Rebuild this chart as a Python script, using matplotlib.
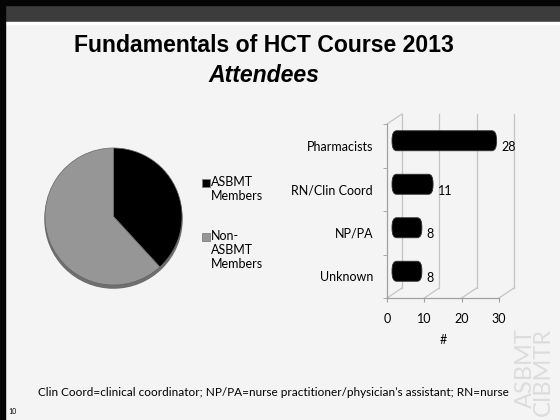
import numpy as np
import matplotlib.pyplot as plt
from matplotlib.patches import Rectangle, FancyBboxPatch, Circle
from matplotlib.transforms import ScaledTranslation

# ----- data -----
title_1 = "Fundamentals of HCT Course 2013"
title_2 = "Attendees"

member_labels = ["ASBMT\nMembers", "Non-\nASBMT\nMembers"]
member_counts = [21, 34]
member_colors = ["#000000", "#969696"]

roles = ["Pharmacists", "RN/Clin Coord", "NP/PA", "Unknown"]
role_counts = [28, 11, 8, 8]
x_ticks = [0, 10, 20, 30]
x_label = "#"

footnote = "Clin Coord=clinical coordinator; NP/PA=nurse practitioner/physician\u2019s assistant; RN=nurse"
slide_no = "10"
watermark = "ASBMT\nCIBMTR"

W, H = 560, 420
body_font = ["Lato", "DejaVu Sans"]
fs = 9


def px(x0, y0, x1, y1):
    # pixel box (top-left origin) -> figure rect
    return [x0 / W, 1 - y1 / H, (x1 - x0) / W, (y1 - y0) / H]


fig = plt.figure(figsize=(5.6, 4.2), dpi=100)
fig.patch.set_facecolor("#f4f4f4")

# ----- slide frame -----
fig.add_artist(Rectangle((0, 1 - 22 / H), 1, 22 / H, transform=fig.transFigure,
                         color="#3c3c3c", zorder=1))
fig.add_artist(Rectangle((0, 1 - 5 / H), 1, 5 / H, transform=fig.transFigure,
                         color="#050505", zorder=2))
fig.add_artist(Rectangle((0, 0), 5 / W, 1, transform=fig.transFigure,
                         color="#050505", zorder=2))
fig.add_artist(Rectangle((0, 1 - 24 / H), 1, 2 / H, transform=fig.transFigure,
                         color="#ffffff", zorder=1))

# ----- titles -----
fig.text(264 / W, 1 - 45 / H, title_1, ha="center", va="center", fontsize=16.6,
         fontweight="bold", family="Liberation Sans")
fig.text(264 / W, 1 - 75 / H, title_2, ha="center", va="center", fontsize=16.6,
         fontweight="bold", style="italic", family="Liberation Sans")

# ----- pie -----
ax1 = fig.add_axes(px(45, 148, 182, 285))
ax1.add_patch(Circle((0, -0.045), 1.0, color="#6e6e6e", zorder=0, clip_on=False))
ax1.pie(member_counts, colors=member_colors, startangle=90, counterclock=False,
        wedgeprops=dict(edgecolor="#666666", linewidth=0.5))
ax1.set_xlim(-1, 1)
ax1.set_ylim(-1, 1)
ax1.set_aspect("equal")
ax1.axis("off")

# legend, drawn by hand so the swatch sits on the first line
legend_y = [183, 237]
for lab, col, y in zip(member_labels, member_colors, legend_y):
    fig.add_artist(Rectangle((202 / W, 1 - (y + 4) / H), 8 / W, 8 / H,
                             transform=fig.transFigure, facecolor=col,
                             edgecolor="#808080", linewidth=0.6))
    fig.text(211 / W, 1 - (y - 7) / H, lab, ha="left", va="top", fontsize=fs,
             linespacing=1.2, family=body_font)

# ----- 3D-ish horizontal bars -----
ax2 = fig.add_axes(px(387, 124, 499, 298))
ax2.patch.set_alpha(0)
ypos = np.arange(len(roles))[::-1]
ax2.set_xlim(x_ticks[0], x_ticks[-1])
ax2.set_ylim(-0.5, len(roles) - 0.5)

# depth of the back wall, in data units
dxd = 15 / (112 / (x_ticks[-1] - x_ticks[0]))
dyd = 10 / (174 / len(roles))
grid_kw = dict(color="#c4c4c4", lw=0.9, clip_on=False, zorder=1)
y_lo, y_hi = -0.5, len(roles) - 0.5
for v in x_ticks:
    ax2.plot([v, v + dxd], [y_lo, y_lo + dyd], **grid_kw)
    ax2.plot([v + dxd, v + dxd], [y_lo + dyd, y_hi + dyd], **grid_kw)
ax2.plot([x_ticks[0], x_ticks[0] + dxd], [y_hi, y_hi + dyd], **grid_kw)

bars = ax2.barh(ypos, role_counts, height=0.46, color="black")
shift = ax2.transData + ScaledTranslation(5 / 100, 5 / 100, fig.dpi_scale_trans)
for b in bars:
    b.set_visible(False)
    ax2.add_patch(FancyBboxPatch((b.get_x(), b.get_y()), b.get_width(), b.get_height(),
                                 boxstyle="round,pad=0,rounding_size=1.2",
                                 mutation_aspect=0.18, facecolor="black",
                                 edgecolor="#303030", linewidth=0.6,
                                 transform=shift, clip_on=False, zorder=3))

for y, v in zip(ypos, role_counts):
    ax2.annotate(str(v), (v, y), xytext=(7, -1), textcoords="offset points",
                 ha="left", va="center", fontsize=fs, family=body_font, zorder=4)

for side in ["top", "right"]:
    ax2.spines[side].set_visible(False)
for side in ["left", "bottom"]:
    ax2.spines[side].set_color("#a0a0a0")
    ax2.spines[side].set_linewidth(0.9)

ax2.set_xticks(x_ticks)
ax2.set_xticklabels([str(t) for t in x_ticks], fontsize=fs, family=body_font)
ax2.tick_params(axis="x", direction="out", length=3, color="#a0a0a0", pad=8)
ax2.set_yticks(ypos)
ax2.set_yticklabels(roles, fontsize=fs, family=body_font)
ax2.set_yticks(np.arange(-0.5, len(roles), 1.0), minor=True)
ax2.tick_params(axis="y", which="major", length=0, pad=10)
ax2.tick_params(axis="y", which="minor", direction="out", length=3, color="#a0a0a0")
ax2.set_xlabel(x_label, fontsize=fs, family=body_font, labelpad=6)

# ----- footer -----
fig.text(38 / W, 1 - 393 / H, footnote, ha="left", va="center", fontsize=8.5,
         family=body_font)
fig.text(8 / W, 1 - 412 / H, slide_no, ha="left", va="center", fontsize=5,
         family=body_font)
fig.text(554 / W, 1 - 416 / H, watermark, ha="right", va="bottom", rotation=90,
         fontsize=17, color="#dcdcdc", family=body_font, linespacing=0.85)

fig.savefig("out.png", dpi=100, facecolor=fig.get_facecolor())
